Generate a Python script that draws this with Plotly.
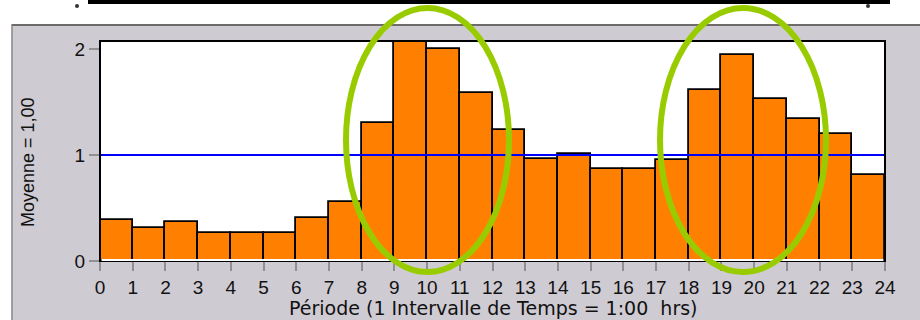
import plotly.graph_objects as go

# Hourly profile, normalised so that the daily mean equals 1.00
hours = list(range(24))
ratio = [0.39, 0.31, 0.37, 0.26, 0.26, 0.26, 0.41, 0.56,
         1.30, 2.08, 2.00, 1.58, 1.24, 0.96, 1.01, 0.87,
         0.87, 0.95, 1.61, 1.94, 1.53, 1.34, 1.20, 0.81]
mean_level = 1.00
x_ticks = list(range(25))
y_ticks = [0, 1, 2]

W, H = 920, 320
L, R, T, B = 100, 885, 41, 261          # plot-area edges in pixels
FONT = "Liberation Sans, Arial, sans-serif"
WIDE = "DejaVu Sans, Verdana, sans-serif"


def px(x):
    return (x - L) / (R - L)


def py(y):
    return (B - y) / (B - T)


fig = go.Figure()

fig.add_trace(go.Bar(
    x=hours, y=ratio, offset=0, width=1,
    marker=dict(color="#ff8000", line=dict(color="#000000", width=1.8)),
    hoverinfo="x+y",
))

fig.add_trace(go.Scatter(
    x=[0, 24], y=[mean_level, mean_level], mode="lines",
    line=dict(color="#0000ff", width=2), hoverinfo="skip",
))

shapes = [
    # white margin above and left of the grey panel
    dict(type="rect", xref="paper", yref="paper", layer="below",
         x0=px(0), x1=px(W), y0=py(24.5), y1=py(0),
         fillcolor="#ffffff", line=dict(width=0)),
    dict(type="rect", xref="paper", yref="paper", layer="below",
         x0=px(0), x1=px(11.5), y0=py(H), y1=py(0),
         fillcolor="#ffffff", line=dict(width=0)),
    # panel border
    dict(type="line", xref="paper", yref="paper", layer="below",
         x0=px(11.5), x1=px(W), y0=py(25), y1=py(25),
         line=dict(color="#6f6b6b", width=2)),
    dict(type="line", xref="paper", yref="paper", layer="below",
         x0=px(12), x1=px(12), y0=py(25), y1=py(H),
         line=dict(color="#8c8888", width=1.5)),
    # black rule along the top
    dict(type="line", xref="paper", yref="paper",
         x0=px(88), x1=px(890), y0=py(2), y1=py(2),
         line=dict(color="#000000", width=4)),
    dict(type="circle", xref="paper", yref="paper",
         x0=px(75), x1=px(79), y0=py(8), y1=py(4),
         fillcolor="#333333", line=dict(width=0)),
    dict(type="circle", xref="paper", yref="paper",
         x0=px(866), x1=px(870), y0=py(8), y1=py(4),
         fillcolor="#333333", line=dict(width=0)),
    # plot frame
    dict(type="rect", xref="paper", yref="paper",
         x0=0, x1=1, y0=0, y1=1, line=dict(color="#000000", width=2)),
    dict(type="line", xref="paper", yref="paper",
         x0=0.002, x1=0.998, y0=0.004, y1=0.004,
         line=dict(color="#ffffff", width=2)),
    # highlighted peak periods
    dict(type="circle", xref="paper", yref="paper",
         x0=px(346), x1=px(509), y0=py(272), y1=py(8),
         line=dict(color="#99cc00", width=6)),
    dict(type="circle", xref="paper", yref="paper",
         x0=px(660), x1=px(826), y0=py(272), y1=py(8),
         line=dict(color="#99cc00", width=6)),
]

annotations = [
    dict(text="Période (1 Intervalle de Temps = 1:00  hrs)",
         xref="paper", yref="paper", x=px(493), y=py(308),
         xanchor="center", yanchor="middle", showarrow=False,
         font=dict(family=WIDE, size=19, color="#111111")),
    dict(text="Moyenne = 1,00", textangle=-90,
         xref="paper", yref="paper", x=px(28), y=py(162),
         xanchor="center", yanchor="middle", showarrow=False,
         font=dict(family=FONT, size=18, color="#111111")),
]

fig.update_layout(
    width=W, height=H,
    margin=dict(l=L, r=W - R, t=T, b=H - B, pad=0),
    paper_bgcolor="#cfcbd3", plot_bgcolor="#ffffff",
    showlegend=False, bargap=0,
    font=dict(family=FONT, size=19, color="#111111"),
    shapes=shapes, annotations=annotations,
    xaxis=dict(range=[0, 24], tickmode="array", tickvals=x_ticks,
               ticktext=[str(v) for v in x_ticks],
               ticks="outside", ticklen=9, tickcolor="#909090", tickwidth=1.5,
               showgrid=False, zeroline=False, showline=False,
               fixedrange=True),
    yaxis=dict(range=[0, 2.075], tickmode="array", tickvals=y_ticks,
               ticktext=[str(v) for v in y_ticks],
               ticks="outside", ticklen=10, tickcolor="#909090", tickwidth=1.5,
               showgrid=False, zeroline=False, showline=False,
               fixedrange=True),
)

fig.write_html("out.html", config={"displayModeBar": False})
